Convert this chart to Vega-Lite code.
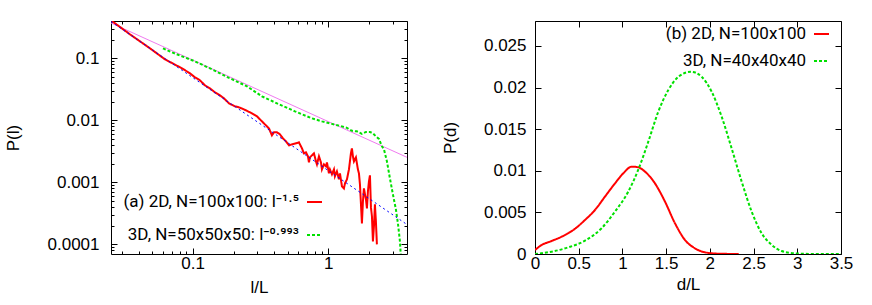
{
  "$schema": "https://vega.github.io/schema/vega-lite/v6.json",
  "padding": {"left": 3, "top": 11, "right": 5, "bottom": 3},
  "config": {
    "view": {"stroke": "black", "strokeWidth": 1},
    "font": "Liberation Sans",
    "axis": {"domain": false, "grid": false, "tickColor": "black", "labelColor": "black", "titleColor": "black", "labelFont": "Liberation Sans", "titleFont": "Liberation Sans", "labelFontSize": 17, "titleFontSize": 17, "titleFontWeight": "normal", "tickWidth": 1, "labelOverlap": false, "labelFlush": false},
    "legend": {"labelFont": "Roboto", "labelFontSize": 17, "labelColor": "black", "labelLimit": 0, "symbolType": "stroke", "symbolSize": 225, "symbolStrokeWidth": 2, "labelAlign": "right", "labelOffset": -24, "padding": 0}
  },
  "datasets": {
    "fitA": [{"l": 0.025, "P": 0.3718}, {"l": 3.8, "P": 0.002535}],
    "fitB": [{"l": 0.025, "P": 0.392}, {"l": 3.8, "P": 0.000209}],
    "lengths": [
      {"s": "(a) 2D, N=100x100: l⁻¹·⁵", "l": 0.0254, "P": 0.395},
      {"s": "(a) 2D, N=100x100: l⁻¹·⁵", "l": 0.02676, "P": 0.367},
      {"s": "(a) 2D, N=100x100: l⁻¹·⁵", "l": 0.03451, "P": 0.2438},
      {"s": "(a) 2D, N=100x100: l⁻¹·⁵", "l": 0.04844, "P": 0.145},
      {"s": "(a) 2D, N=100x100: l⁻¹·⁵", "l": 0.06251, "P": 0.0963},
      {"s": "(a) 2D, N=100x100: l⁻¹·⁵", "l": 0.0834, "P": 0.069},
      {"s": "(a) 2D, N=100x100: l⁻¹·⁵", "l": 0.0955, "P": 0.0573},
      {"s": "(a) 2D, N=100x100: l⁻¹·⁵", "l": 0.1039, "P": 0.0494},
      {"s": "(a) 2D, N=100x100: l⁻¹·⁵", "l": 0.1132, "P": 0.0442},
      {"s": "(a) 2D, N=100x100: l⁻¹·⁵", "l": 0.1232, "P": 0.0367},
      {"s": "(a) 2D, N=100x100: l⁻¹·⁵", "l": 0.1341, "P": 0.0328},
      {"s": "(a) 2D, N=100x100: l⁻¹·⁵", "l": 0.146, "P": 0.02829},
      {"s": "(a) 2D, N=100x100: l⁻¹·⁵", "l": 0.1589, "P": 0.0253},
      {"s": "(a) 2D, N=100x100: l⁻¹·⁵", "l": 0.1701, "P": 0.02264},
      {"s": "(a) 2D, N=100x100: l⁻¹·⁵", "l": 0.1852, "P": 0.0188},
      {"s": "(a) 2D, N=100x100: l⁻¹·⁵", "l": 0.205, "P": 0.01682},
      {"s": "(a) 2D, N=100x100: l⁻¹·⁵", "l": 0.2195, "P": 0.01621},
      {"s": "(a) 2D, N=100x100: l⁻¹·⁵", "l": 0.2388, "P": 0.01505},
      {"s": "(a) 2D, N=100x100: l⁻¹·⁵", "l": 0.2556, "P": 0.01397},
      {"s": "(a) 2D, N=100x100: l⁻¹·⁵", "l": 0.2735, "P": 0.01297},
      {"s": "(a) 2D, N=100x100: l⁻¹·⁵", "l": 0.2978, "P": 0.0116},
      {"s": "(a) 2D, N=100x100: l⁻¹·⁵", "l": 0.3241, "P": 0.00963},
      {"s": "(a) 2D, N=100x100: l⁻¹·⁵", "l": 0.3468, "P": 0.0083},
      {"s": "(a) 2D, N=100x100: l⁻¹·⁵", "l": 0.3649, "P": 0.00743},
      {"s": "(a) 2D, N=100x100: l⁻¹·⁵", "l": 0.384, "P": 0.00573},
      {"s": "(a) 2D, N=100x100: l⁻¹·⁵", "l": 0.3973, "P": 0.00641},
      {"s": "(a) 2D, N=100x100: l⁻¹·⁵", "l": 0.4181, "P": 0.00641},
      {"s": "(a) 2D, N=100x100: l⁻¹·⁵", "l": 0.4399, "P": 0.00595},
      {"s": "(a) 2D, N=100x100: l⁻¹·⁵", "l": 0.4628, "P": 0.00513},
      {"s": "(a) 2D, N=100x100: l⁻¹·⁵", "l": 0.487, "P": 0.00459},
      {"s": "(a) 2D, N=100x100: l⁻¹·⁵", "l": 0.5125, "P": 0.00395},
      {"s": "(a) 2D, N=100x100: l⁻¹·⁵", "l": 0.5391, "P": 0.0041},
      {"s": "(a) 2D, N=100x100: l⁻¹·⁵", "l": 0.5771, "P": 0.00426},
      {"s": "(a) 2D, N=100x100: l⁻¹·⁵", "l": 0.6071, "P": 0.00442},
      {"s": "(a) 2D, N=100x100: l⁻¹·⁵", "l": 0.6388, "P": 0.00354},
      {"s": "(a) 2D, N=100x100: l⁻¹·⁵", "l": 0.6609, "P": 0.00294},
      {"s": "(a) 2D, N=100x100: l⁻¹·⁵", "l": 0.6838, "P": 0.00305},
      {"s": "(a) 2D, N=100x100: l⁻¹·⁵", "l": 0.7074, "P": 0.00263},
      {"s": "(a) 2D, N=100x100: l⁻¹·⁵", "l": 0.7194, "P": 0.0021},
      {"s": "(a) 2D, N=100x100: l⁻¹·⁵", "l": 0.7317, "P": 0.00253},
      {"s": "(a) 2D, N=100x100: l⁻¹·⁵", "l": 0.757, "P": 0.00273},
      {"s": "(a) 2D, N=100x100: l⁻¹·⁵", "l": 0.7832, "P": 0.00294},
      {"s": "(a) 2D, N=100x100: l⁻¹·⁵", "l": 0.8103, "P": 0.00218},
      {"s": "(a) 2D, N=100x100: l⁻¹·⁵", "l": 0.8241, "P": 0.00195},
      {"s": "(a) 2D, N=100x100: l⁻¹·⁵", "l": 0.8526, "P": 0.00263},
      {"s": "(a) 2D, N=100x100: l⁻¹·⁵", "l": 0.882, "P": 0.0021},
      {"s": "(a) 2D, N=100x100: l⁻¹·⁵", "l": 0.897, "P": 0.00162},
      {"s": "(a) 2D, N=100x100: l⁻¹·⁵", "l": 0.9281, "P": 0.00195},
      {"s": "(a) 2D, N=100x100: l⁻¹·⁵", "l": 0.9601, "P": 0.00181},
      {"s": "(a) 2D, N=100x100: l⁻¹·⁵", "l": 0.9766, "P": 0.0021},
      {"s": "(a) 2D, N=100x100: l⁻¹·⁵", "l": 1.01, "P": 0.001397},
      {"s": "(a) 2D, N=100x100: l⁻¹·⁵", "l": 1.027, "P": 0.00162},
      {"s": "(a) 2D, N=100x100: l⁻¹·⁵", "l": 1.063, "P": 0.001346},
      {"s": "(a) 2D, N=100x100: l⁻¹·⁵", "l": 1.1, "P": 0.00162},
      {"s": "(a) 2D, N=100x100: l⁻¹·⁵", "l": 1.118, "P": 0.00125},
      {"s": "(a) 2D, N=100x100: l⁻¹·⁵", "l": 1.157, "P": 0.001505},
      {"s": "(a) 2D, N=100x100: l⁻¹·⁵", "l": 1.197, "P": 0.001118},
      {"s": "(a) 2D, N=100x100: l⁻¹·⁵", "l": 1.218, "P": 0.001397},
      {"s": "(a) 2D, N=100x100: l⁻¹·⁵", "l": 1.26, "P": 0.000862},
      {"s": "(a) 2D, N=100x100: l⁻¹·⁵", "l": 1.303, "P": 0.0008},
      {"s": "(a) 2D, N=100x100: l⁻¹·⁵", "l": 1.326, "P": 0.000963},
      {"s": "(a) 2D, N=100x100: l⁻¹·⁵", "l": 1.371, "P": 0.001118},
      {"s": "(a) 2D, N=100x100: l⁻¹·⁵", "l": 1.419, "P": 0.00162},
      {"s": "(a) 2D, N=100x100: l⁻¹·⁵", "l": 1.467, "P": 0.00294},
      {"s": "(a) 2D, N=100x100: l⁻¹·⁵", "l": 1.492, "P": 0.00354},
      {"s": "(a) 2D, N=100x100: l⁻¹·⁵", "l": 1.518, "P": 0.00263},
      {"s": "(a) 2D, N=100x100: l⁻¹·⁵", "l": 1.544, "P": 0.00218},
      {"s": "(a) 2D, N=100x100: l⁻¹·⁵", "l": 1.597, "P": 0.00253},
      {"s": "(a) 2D, N=100x100: l⁻¹·⁵", "l": 1.652, "P": 0.00162},
      {"s": "(a) 2D, N=100x100: l⁻¹·⁵", "l": 1.681, "P": 0.001397},
      {"s": "(a) 2D, N=100x100: l⁻¹·⁵", "l": 1.71, "P": 0.000928},
      {"s": "(a) 2D, N=100x100: l⁻¹·⁵", "l": 1.768, "P": 0.000218},
      {"s": "(a) 2D, N=100x100: l⁻¹·⁵", "l": 1.799, "P": 0.000494},
      {"s": "(a) 2D, N=100x100: l⁻¹·⁵", "l": 1.829, "P": 0.0008},
      {"s": "(a) 2D, N=100x100: l⁻¹·⁵", "l": 1.893, "P": 0.000532},
      {"s": "(a) 2D, N=100x100: l⁻¹·⁵", "l": 1.925, "P": 0.000381},
      {"s": "(a) 2D, N=100x100: l⁻¹·⁵", "l": 1.958, "P": 0.000716},
      {"s": "(a) 2D, N=100x100: l⁻¹·⁵", "l": 1.992, "P": 0.001038},
      {"s": "(a) 2D, N=100x100: l⁻¹·⁵", "l": 2.026, "P": 0.001297},
      {"s": "(a) 2D, N=100x100: l⁻¹·⁵", "l": 2.061, "P": 0.000395},
      {"s": "(a) 2D, N=100x100: l⁻¹·⁵", "l": 2.096, "P": 0.000283},
      {"s": "(a) 2D, N=100x100: l⁻¹·⁵", "l": 2.131, "P": 0.000112},
      {"s": "(a) 2D, N=100x100: l⁻¹·⁵", "l": 2.168, "P": 0.000195},
      {"s": "(a) 2D, N=100x100: l⁻¹·⁵", "l": 2.205, "P": 0.000442},
      {"s": "(a) 2D, N=100x100: l⁻¹·⁵", "l": 2.242, "P": 0.000235},
      {"s": "(a) 2D, N=100x100: l⁻¹·⁵", "l": 2.28, "P": 0.0001},
      {"s": "3D, N=50x50x50: l⁻⁰·⁹⁹³", "l": 0.0604, "P": 0.145},
      {"s": "3D, N=50x50x50: l⁻⁰·⁹⁹³", "l": 0.0704, "P": 0.1249},
      {"s": "3D, N=50x50x50: l⁻⁰·⁹⁹³", "l": 0.0834, "P": 0.1077},
      {"s": "3D, N=50x50x50: l⁻⁰·⁹⁹³", "l": 0.1039, "P": 0.0895},
      {"s": "3D, N=50x50x50: l⁻⁰·⁹⁹³", "l": 0.1388, "P": 0.0665},
      {"s": "3D, N=50x50x50: l⁻⁰·⁹⁹³", "l": 0.1852, "P": 0.0485},
      {"s": "3D, N=50x50x50: l⁻⁰·⁹⁹³", "l": 0.2513, "P": 0.0354},
      {"s": "3D, N=50x50x50: l⁻⁰·⁹⁹³", "l": 0.3241, "P": 0.02438},
      {"s": "3D, N=50x50x50: l⁻⁰·⁹⁹³", "l": 0.4181, "P": 0.0188},
      {"s": "3D, N=50x50x50: l⁻⁰·⁹⁹³", "l": 0.5675, "P": 0.01397},
      {"s": "3D, N=50x50x50: l⁻⁰·⁹⁹³", "l": 0.757, "P": 0.01077},
      {"s": "3D, N=50x50x50: l⁻⁰·⁹⁹³", "l": 0.897, "P": 0.00963},
      {"s": "3D, N=50x50x50: l⁻⁰·⁹⁹³", "l": 1.063, "P": 0.00878},
      {"s": "3D, N=50x50x50: l⁻⁰·⁹⁹³", "l": 1.26, "P": 0.008},
      {"s": "3D, N=50x50x50: l⁻⁰·⁹⁹³", "l": 1.371, "P": 0.00757},
      {"s": "3D, N=50x50x50: l⁻⁰·⁹⁹³", "l": 1.492, "P": 0.00677},
      {"s": "3D, N=50x50x50: l⁻⁰·⁹⁹³", "l": 1.624, "P": 0.00665},
      {"s": "3D, N=50x50x50: l⁻⁰·⁹⁹³", "l": 1.768, "P": 0.00606},
      {"s": "3D, N=50x50x50: l⁻⁰·⁹⁹³", "l": 1.893, "P": 0.00652},
      {"s": "3D, N=50x50x50: l⁻⁰·⁹⁹³", "l": 2.026, "P": 0.00652},
      {"s": "3D, N=50x50x50: l⁻⁰·⁹⁹³", "l": 2.131, "P": 0.00617},
      {"s": "3D, N=50x50x50: l⁻⁰·⁹⁹³", "l": 2.242, "P": 0.00552},
      {"s": "3D, N=50x50x50: l⁻⁰·⁹⁹³", "l": 2.36, "P": 0.00503},
      {"s": "3D, N=50x50x50: l⁻⁰·⁹⁹³", "l": 2.483, "P": 0.00381},
      {"s": "3D, N=50x50x50: l⁻⁰·⁹⁹³", "l": 2.57, "P": 0.00341},
      {"s": "3D, N=50x50x50: l⁻⁰·⁹⁹³", "l": 2.703, "P": 0.00218},
      {"s": "3D, N=50x50x50: l⁻⁰·⁹⁹³", "l": 2.844, "P": 0.00116},
      {"s": "3D, N=50x50x50: l⁻⁰·⁹⁹³", "l": 2.992, "P": 0.00064},
      {"s": "3D, N=50x50x50: l⁻⁰·⁹⁹³", "l": 3.148, "P": 0.000367},
      {"s": "3D, N=50x50x50: l⁻⁰·⁹⁹³", "l": 3.258, "P": 0.000218},
      {"s": "3D, N=50x50x50: l⁻⁰·⁹⁹³", "l": 3.371, "P": 0.000112},
      {"s": "3D, N=50x50x50: l⁻⁰·⁹⁹³", "l": 3.43, "P": 0.00006}
    ],
    "dist": [
      {"s": "(b) 2D, N=100x100", "d": 0, "P": 0.00048},
      {"s": "(b) 2D, N=100x100", "d": 0.076, "P": 0.00108},
      {"s": "(b) 2D, N=100x100", "d": 0.19, "P": 0.00156},
      {"s": "(b) 2D, N=100x100", "d": 0.305, "P": 0.00208},
      {"s": "(b) 2D, N=100x100", "d": 0.438, "P": 0.00288},
      {"s": "(b) 2D, N=100x100", "d": 0.572, "P": 0.00409},
      {"s": "(b) 2D, N=100x100", "d": 0.686, "P": 0.00529},
      {"s": "(b) 2D, N=100x100", "d": 0.8, "P": 0.00689},
      {"s": "(b) 2D, N=100x100", "d": 0.915, "P": 0.00849},
      {"s": "(b) 2D, N=100x100", "d": 1.01, "P": 0.0097},
      {"s": "(b) 2D, N=100x100", "d": 1.106, "P": 0.0105},
      {"s": "(b) 2D, N=100x100", "d": 1.18, "P": 0.01042},
      {"s": "(b) 2D, N=100x100", "d": 1.258, "P": 0.0099},
      {"s": "(b) 2D, N=100x100", "d": 1.372, "P": 0.00849},
      {"s": "(b) 2D, N=100x100", "d": 1.487, "P": 0.00629},
      {"s": "(b) 2D, N=100x100", "d": 1.601, "P": 0.00369},
      {"s": "(b) 2D, N=100x100", "d": 1.716, "P": 0.00168},
      {"s": "(b) 2D, N=100x100", "d": 1.83, "P": 0.00068},
      {"s": "(b) 2D, N=100x100", "d": 1.944, "P": 0.0002},
      {"s": "(b) 2D, N=100x100", "d": 2.097, "P": 0.00004},
      {"s": "(b) 2D, N=100x100", "d": 2.33, "P": 0},
      {"s": "3D, N=40x40x40", "d": 0, "P": 0},
      {"s": "3D, N=40x40x40", "d": 0.19, "P": 0.00028},
      {"s": "3D, N=40x40x40", "d": 0.381, "P": 0.0008},
      {"s": "3D, N=40x40x40", "d": 0.572, "P": 0.0016},
      {"s": "3D, N=40x40x40", "d": 0.762, "P": 0.0031},
      {"s": "3D, N=40x40x40", "d": 0.915, "P": 0.0051},
      {"s": "3D, N=40x40x40", "d": 1.067, "P": 0.0075},
      {"s": "3D, N=40x40x40", "d": 1.18, "P": 0.0101},
      {"s": "3D, N=40x40x40", "d": 1.296, "P": 0.0135},
      {"s": "3D, N=40x40x40", "d": 1.41, "P": 0.0171},
      {"s": "3D, N=40x40x40", "d": 1.525, "P": 0.0197},
      {"s": "3D, N=40x40x40", "d": 1.64, "P": 0.0213},
      {"s": "3D, N=40x40x40", "d": 1.784, "P": 0.0219},
      {"s": "3D, N=40x40x40", "d": 1.906, "P": 0.0213},
      {"s": "3D, N=40x40x40", "d": 2.021, "P": 0.0195},
      {"s": "3D, N=40x40x40", "d": 2.135, "P": 0.0165},
      {"s": "3D, N=40x40x40", "d": 2.249, "P": 0.0127},
      {"s": "3D, N=40x40x40", "d": 2.364, "P": 0.0087},
      {"s": "3D, N=40x40x40", "d": 2.478, "P": 0.0051},
      {"s": "3D, N=40x40x40", "d": 2.592, "P": 0.0025},
      {"s": "3D, N=40x40x40", "d": 2.707, "P": 0.0011},
      {"s": "3D, N=40x40x40", "d": 2.821, "P": 0.00036},
      {"s": "3D, N=40x40x40", "d": 2.974, "P": 0.00008},
      {"s": "3D, N=40x40x40", "d": 3.24, "P": 0},
      {"s": "3D, N=40x40x40", "d": 3.5, "P": 0}
    ]
  },
  "hconcat": [
    {
      "width": 296,
      "height": 233,
      "resolve": {"axis": {"x": "independent", "y": "independent"}},
      "layer": [
        {
          "data": {"name": "fitA"},
          "mark": {"type": "line", "color": "#f07af0", "strokeWidth": 1, "clip": true},
          "encoding": {
            "x": {"field": "l", "type": "quantitative", "scale": {"type": "log", "domain": [0.025, 3.8], "nice": false},
              "axis": {"orient": "bottom", "title": "l/L", "values": [0.03,0.04,0.05,0.06,0.07,0.08,0.09,0.1,0.2,0.3,0.4,0.5,0.6,0.7,0.8,0.9,1,2,3], "format": "~g",
                "labelExpr": "indexof([0.1,1], datum.value) >= 0 ? datum.label : ''",
                "tickSize": {"condition": {"test": "indexof([0.1,1], datum.value) >= 0", "value": -6}, "value": -3},
                "labelPadding": 7, "titlePadding": 5}},
            "y": {"field": "P", "type": "quantitative", "scale": {"type": "log", "domain": [0.00007, 0.4], "nice": false},
              "axis": {"orient": "left", "title": "P(l)", "values": [0.00008,0.00009,0.0001,0.0002,0.0003,0.0004,0.0005,0.0006,0.0007,0.0008,0.0009,0.001,0.002,0.003,0.004,0.005,0.006,0.007,0.008,0.009,0.01,0.02,0.03,0.04,0.05,0.06,0.07,0.08,0.09,0.1,0.2,0.3,0.4], "format": "~g",
                "labelExpr": "indexof([0.0001,0.001,0.01,0.1], datum.value) >= 0 ? datum.label : ''",
                "tickSize": {"condition": {"test": "indexof([0.0001,0.001,0.01,0.1], datum.value) >= 0", "value": -6}, "value": -3},
                "labelPadding": 18, "titlePadding": 25}}
          }
        },
        {
          "data": {"name": "lengths"},
          "mark": {"type": "line", "strokeWidth": 2, "clip": true},
          "encoding": {
            "x": {"field": "l", "type": "quantitative", "axis": null},
            "y": {"field": "P", "type": "quantitative", "axis": null},
            "color": {"field": "s", "type": "nominal", "scale": {"domain": ["(a) 2D, N=100x100: l⁻¹·⁵", "3D, N=50x50x50: l⁻⁰·⁹⁹³"], "range": ["#ff0000", "#00e000"]},
              "legend": {"orient": "none", "legendX": 195, "legendY": 172.5, "title": null, "rowPadding": 15}},
            "strokeDash": {"field": "s", "type": "nominal", "scale": {"domain": ["(a) 2D, N=100x100: l⁻¹·⁵", "3D, N=50x50x50: l⁻⁰·⁹⁹³"], "range": [[1, 0], [3, 2]]},
              "legend": {"orient": "none", "legendX": 195, "legendY": 172.5, "title": null, "rowPadding": 15}}
          }
        },
        {
          "data": {"name": "fitB"},
          "mark": {"type": "line", "color": "#0000ff", "strokeWidth": 1, "strokeDash": [2, 3], "clip": true},
          "encoding": {
            "x": {"field": "l", "type": "quantitative",
              "axis": {"orient": "top", "title": null, "labels": false, "values": [0.03,0.04,0.05,0.06,0.07,0.08,0.09,0.1,0.2,0.3,0.4,0.5,0.6,0.7,0.8,0.9,1,2,3],
                "tickSize": {"condition": {"test": "indexof([0.1,1], datum.value) >= 0", "value": -6}, "value": -3}}},
            "y": {"field": "P", "type": "quantitative",
              "axis": {"orient": "right", "title": null, "labels": false, "values": [0.00008,0.00009,0.0001,0.0002,0.0003,0.0004,0.0005,0.0006,0.0007,0.0008,0.0009,0.001,0.002,0.003,0.004,0.005,0.006,0.007,0.008,0.009,0.01,0.02,0.03,0.04,0.05,0.06,0.07,0.08,0.09,0.1,0.2,0.3,0.4],
                "tickSize": {"condition": {"test": "indexof([0.0001,0.001,0.01,0.1], datum.value) >= 0", "value": -6}, "value": -3}}}
          }
        }
      ]
    },
    {
      "width": 306,
      "height": 233,
      "resolve": {"axis": {"x": "independent", "y": "independent"}},
      "data": {"name": "dist"},
      "layer": [
        {
          "transform": [{"filter": "datum.s == '(b) 2D, N=100x100'"}],
          "mark": {"type": "line", "strokeWidth": 2, "interpolate": "monotone", "clip": true},
          "encoding": {
            "x": {"field": "d", "type": "quantitative", "scale": {"domain": [0, 3.5], "nice": false, "zero": false},
              "axis": {"orient": "bottom", "title": "d/L", "values": [0,0.5,1,1.5,2,2.5,3,3.5], "format": "~g", "tickSize": -6, "labelPadding": 7, "titlePadding": 5}},
            "y": {"field": "P", "type": "quantitative", "scale": {"domain": [0, 0.028], "nice": false},
              "axis": {"orient": "left", "title": "P(d)", "values": [0,0.005,0.01,0.015,0.02,0.025], "format": "~g", "tickSize": -6, "labelPadding": 15, "titlePadding": 24}},
            "color": {"field": "s", "type": "nominal", "scale": {"domain": ["(b) 2D, N=100x100", "3D, N=40x40x40"], "range": ["#ff0000", "#00e000"]},
              "legend": {"orient": "none", "legendX": 278, "legendY": 4.5, "title": null, "rowPadding": 9}},
            "strokeDash": {"field": "s", "type": "nominal", "scale": {"domain": ["(b) 2D, N=100x100", "3D, N=40x40x40"], "range": [[1, 0], [3, 2]]},
              "legend": {"orient": "none", "legendX": 278, "legendY": 4.5, "title": null, "rowPadding": 9}}
          }
        },
        {
          "transform": [{"filter": "datum.s == '3D, N=40x40x40'"}],
          "mark": {"type": "line", "strokeWidth": 2, "interpolate": "monotone", "clip": true},
          "encoding": {
            "x": {"field": "d", "type": "quantitative",
              "axis": {"orient": "top", "title": null, "labels": false, "values": [0,0.5,1,1.5,2,2.5,3,3.5], "tickSize": -6}},
            "y": {"field": "P", "type": "quantitative",
              "axis": {"orient": "right", "title": null, "labels": false, "values": [0,0.005,0.01,0.015,0.02,0.025], "tickSize": -6}},
            "color": {"field": "s", "type": "nominal"},
            "strokeDash": {"field": "s", "type": "nominal"}
          }
        }
      ]
    }
  ],
  "spacing": 32,
  "resolve": {"scale": {"color": "independent", "strokeDash": "independent"}, "legend": {"color": "independent", "strokeDash": "independent"}}
}
